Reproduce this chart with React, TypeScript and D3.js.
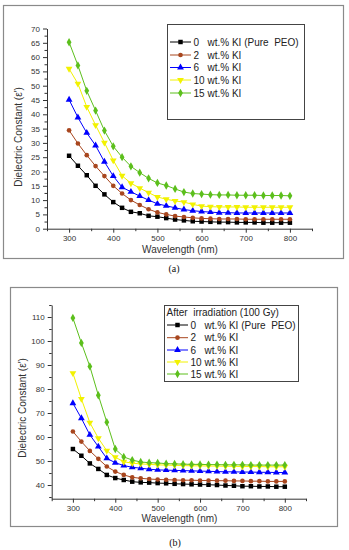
import React, { useEffect, useRef } from 'react';
import * as d3 from 'd3';

// wavelength (nm) of every measured point
const wavelengths = [300, 320, 340, 360, 380, 400, 420, 440, 460, 480, 500, 520, 540, 560, 580, 600, 620, 640, 660, 680, 700, 720, 740, 760, 780, 800];

const seriesNames = ['0', '2', '6', '10', '15'];
const seriesSuffix = ['wt.% KI (Pure  PEO)', 'wt.% KI', 'wt.% KI', 'wt.% KI', 'wt.% KI'];

// (a) before irradiation
const a0 = [25.5, 22, 18.7, 15, 12, 9.3, 7.3, 5.9, 5.4, 4.5, 4.2, 3.7, 3.2, 2.9, 2.6, 2.5, 2.4, 2.3, 2.3, 2.2, 2.2, 2.2, 2.1, 2.1, 2.1, 2.1];
const a2 = [34.4, 29.8, 25.7, 21.9, 18.4, 15, 12.3, 10, 8.3, 6.8, 5.7, 5, 4.4, 4.1, 3.8, 3.6, 3.5, 3.4, 3.4, 3.4, 3.3, 3.3, 3.3, 3.3, 3.3, 3.3];
const a6 = [45.1, 38.9, 33.5, 29.1, 23.4, 18.4, 14.5, 12.9, 11.4, 10, 8.7, 8, 7.3, 6.7, 6.3, 6, 5.8, 5.6, 5.6, 5.5, 5.5, 5.5, 5.5, 5.5, 5.5, 5.5];
const a10 = [55.9, 50.7, 42.6, 36.2, 30.1, 23.9, 18.5, 15.9, 14.2, 12.6, 11.1, 10.3, 9.7, 9.3, 8.5, 7.9, 7.7, 7.6, 7.6, 7.6, 7.5, 7.5, 7.5, 7.5, 7.5, 7.5];
const a15 = [65.2, 57.1, 48.2, 41.3, 34.3, 28.8, 25, 21.8, 19.6, 17.6, 16, 15.1, 13.9, 12.8, 12.3, 12.1, 11.9, 11.8, 11.8, 11.7, 11.7, 11.7, 11.6, 11.6, 11.6, 11.5];

// (b) after irradiation (100 Gy)
const b0 = [55, 52.2, 49, 46.7, 44.2, 42.9, 42.1, 41.4, 41.1, 41, 40.8, 40.7, 40.5, 40.4, 40.3, 40.2, 40.1, 40, 39.8, 39.7, 39.5, 39.5, 39.4, 39.4, 39.3, 39.3];
const b2 = [62.3, 58.1, 54.2, 50.9, 47.7, 45.6, 44.2, 43.2, 42.8, 42.5, 42.3, 42.2, 42.1, 42, 42, 41.9, 41.9, 41.8, 41.8, 41.7, 41.7, 41.6, 41.6, 41.5, 41.5, 41.5];
const b6 = [74.1, 67.8, 60.9, 56, 51.1, 49.3, 48.1, 47.4, 47, 46.6, 46.3, 46.2, 46.1, 46, 45.9, 45.8, 45.7, 45.6, 45.5, 45.5, 45.4, 45.4, 45.3, 45.3, 45.2, 45.2];
const b10 = [86.6, 75.9, 66, 59.5, 54.3, 51.6, 49.7, 49.1, 48.8, 48.6, 48.4, 48.3, 48.2, 48.1, 48, 48, 47.9, 47.9, 47.8, 47.8, 47.7, 47.7, 47.7, 47.6, 47.6, 47.6];
const b15 = [109.6, 99.2, 89.4, 77.4, 66.2, 55, 51.7, 50.4, 49.6, 49.3, 49.2, 48.9, 48.8, 48.7, 48.6, 48.6, 48.5, 48.5, 48.4, 48.4, 48.4, 48.3, 48.3, 48.3, 48.3, 48.3];

const xTicks = [300, 400, 500, 600, 700, 800];
const xMinorTicks = [250, 350, 450, 550, 650, 750, 850];
const aYTicks = [0, 5, 10, 15, 20, 25, 30, 35, 40, 45, 50, 55, 60, 65, 70];
const aYMinor = [2.5, 7.5, 12.5, 17.5, 22.5, 27.5, 32.5, 37.5, 42.5, 47.5, 52.5, 57.5, 62.5, 67.5];
const bYTicks = [40, 50, 60, 70, 80, 90, 100, 110];
const bYMinor = [35, 45, 55, 65, 75, 85, 95, 105, 115];

const colors = ['#000000', '#a8461e', '#0000ff', '#f2f200', '#5cbf1c'];
const symbols = [d3.symbolSquare, d3.symbolCircle, d3.symbolTriangle, d3.symbolTriangle, d3.symbolDiamond];
const symbolSizes = [20, 17, 20, 20, 20];
const symbolRotate = [0, 0, 0, 180, 0];

const FONT = '"Liberation Sans", Arial, sans-serif';

function drawPanel(svg: any, cfg: any) {
  const g = svg.append('g');
  const [fx0, fy0, fx1, fy1] = cfg.frame;
  g.append('rect')
    .attr('x', fx0 + 0.5).attr('y', fy0 + 0.5)
    .attr('width', fx1 - fx0).attr('height', fy1 - fy0)
    .attr('fill', 'white').attr('stroke', '#8a8a8a').attr('stroke-width', 1.2);

  const x = d3.scaleLinear().domain([250, 850]).range(cfg.xRange);
  const y = d3.scaleLinear().domain(cfg.yDomain).range(cfg.yRange);

  // x axis
  const xa = g.append('g').attr('transform', `translate(0,${cfg.yRange[0]})`);
  xa.call(d3.axisBottom(x).tickValues(xTicks).tickSize(4).tickSizeOuter(0).tickPadding(3).tickFormat(d3.format('d')));
  const xm = g.append('g').attr('transform', `translate(0,${cfg.yRange[0]})`);
  xm.call(d3.axisBottom(x).tickValues(xMinorTicks).tickSize(2.5).tickSizeOuter(0).tickFormat(() => ''));
  xm.select('.domain').remove();

  // y axis
  const ya = g.append('g').attr('transform', `translate(${cfg.xRange[0]},0)`);
  ya.call(d3.axisLeft(y).tickValues(cfg.yTicks).tickSize(4).tickSizeOuter(0).tickPadding(3).tickFormat(d3.format('d')));
  const ym = g.append('g').attr('transform', `translate(${cfg.xRange[0]},0)`);
  ym.call(d3.axisLeft(y).tickValues(cfg.yMinor).tickSize(2.5).tickSizeOuter(0).tickFormat(() => ''));
  ym.select('.domain').remove();

  g.selectAll('.domain, .tick line').attr('stroke', '#333').attr('stroke-width', 1);
  g.selectAll('.tick text').attr('font-family', FONT).attr('font-size', 8).attr('fill', '#333');

  // axis titles
  g.append('text')
    .attr('x', cfg.xLabel[0]).attr('y', cfg.xLabel[1])
    .attr('text-anchor', 'middle').attr('dominant-baseline', 'central')
    .attr('font-family', FONT).attr('font-size', 10).attr('fill', '#333')
    .text('Wavelength (nm)');
  g.append('text')
    .attr('transform', `translate(${cfg.yLabel[0]},${cfg.yLabel[1]}) rotate(-90)`)
    .attr('text-anchor', 'middle').attr('dominant-baseline', 'central')
    .attr('font-family', FONT).attr('font-size', 10).attr('fill', '#333')
    .text("Dielectric Constant (\u03B5')");

  // series
  const line = d3.line<number>().x((_, i) => x(wavelengths[i])).y((d) => y(d));
  cfg.series.forEach((vals: number[], si: number) => {
    g.append('path')
      .attr('d', line(vals))
      .attr('fill', 'none').attr('stroke', colors[si]).attr('stroke-width', 1);
    const sym = d3.symbol().type(symbols[si]).size(symbolSizes[si]);
    g.selectAll(null)
      .data(vals)
      .enter()
      .append('path')
      .attr('d', sym() as string)
      .attr('transform', (d: number, i: number) => `translate(${x(wavelengths[i])},${y(d)}) rotate(${symbolRotate[si]})`)
      .attr('fill', colors[si]);
  });

  // legend
  const [lx0, ly0, lx1, ly1] = cfg.legendBox;
  g.append('rect')
    .attr('x', lx0 + 0.5).attr('y', ly0 + 0.5)
    .attr('width', lx1 - lx0).attr('height', ly1 - ly0)
    .attr('fill', 'white').attr('stroke', '#444').attr('stroke-width', 1);
  if (cfg.legendTitle) {
    g.append('text')
      .attr('x', lx0 + 2.5).attr('y', cfg.legendTitleY)
      .attr('dominant-baseline', 'central')
      .attr('font-family', FONT).attr('font-size', 10).attr('fill', '#222')
      .style('white-space', 'pre')
      .text(cfg.legendTitle);
  }
  cfg.legendY.forEach((ly: number, si: number) => {
    g.append('line')
      .attr('x1', lx0 + 3).attr('x2', lx0 + 24).attr('y1', ly).attr('y2', ly)
      .attr('stroke', colors[si]).attr('stroke-width', 1);
    const sym = d3.symbol().type(symbols[si]).size(symbolSizes[si]);
    g.append('path')
      .attr('d', sym() as string)
      .attr('transform', `translate(${lx0 + 13.5},${ly}) rotate(${symbolRotate[si]})`)
      .attr('fill', colors[si]);
    g.append('text')
      .attr('x', lx0 + 26.5).attr('y', ly)
      .attr('dominant-baseline', 'central')
      .attr('font-family', FONT).attr('font-size', 10).attr('fill', '#222')
      .text(seriesNames[si]);
    g.append('text')
      .attr('x', lx0 + 40.5).attr('y', ly)
      .attr('dominant-baseline', 'central')
      .attr('font-family', FONT).attr('font-size', 10).attr('fill', '#222')
      .style('white-space', 'pre')
      .text(seriesSuffix[si]);
  });

  // caption
  g.append('text')
    .attr('x', cfg.caption[0]).attr('y', cfg.caption[1])
    .attr('text-anchor', 'middle').attr('dominant-baseline', 'central')
    .attr('font-family', '"Liberation Serif", "Times New Roman", serif').attr('font-size', 10).attr('fill', '#111')
    .text(cfg.captionText);
}

const App: React.FC = () => {
  const svgRef = useRef<SVGSVGElement | null>(null);

  useEffect(() => {
    if (!svgRef.current) return;
    const svg = d3.select(svgRef.current);
    svg.selectAll('*').remove();

    drawPanel(svg, {
      frame: [3, 5, 343, 258],
      xRange: [47, 312],
      yDomain: [0, 70],
      yRange: [228.7, 28.5],
      yTicks: aYTicks,
      yMinor: aYMinor,
      xLabel: [180, 249],
      yLabel: [18, 137],
      series: [a0, a2, a6, a10, a15],
      legendBox: [167, 24, 304, 119],
      legendY: [42, 55, 67.5, 80, 93],
      caption: [174, 268],
      captionText: '(a)',
    });

    drawPanel(svg, {
      frame: [10, 287, 337, 526],
      xRange: [51.7, 306],
      yDomain: [34.3, 115],
      yRange: [498.7, 305],
      yTicks: bYTicks,
      yMinor: bYMinor,
      xLabel: [179.5, 518],
      yLabel: [22, 408],
      series: [b0, b2, b6, b10, b15],
      legendBox: [164, 305, 298, 381],
      legendTitle: 'After  irradiation (100 Gy)',
      legendTitleY: 312.5,
      legendY: [325, 337.7, 350, 362, 374],
      caption: [175, 542],
      captionText: '(b)',
    });
  }, []);

  return (
    <svg
      ref={svgRef}
      width={349}
      height={550}
      style={{ position: 'absolute', left: 0, top: 0, background: 'white' }}
    />
  );
};

export default App;
